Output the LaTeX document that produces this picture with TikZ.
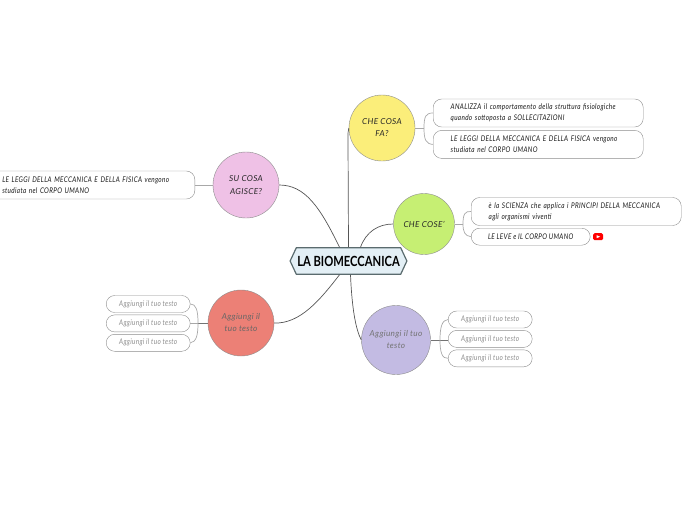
\documentclass[tikz,border=0pt]{standalone}
\usepackage{fontspec}
\setmainfont{Lato}
\usepackage{xcolor}
\usetikzlibrary{shapes.symbols,positioning}
\definecolor{rootfill}{HTML}{E3EFF5}
\definecolor{rootline}{HTML}{5A6B6E}
\definecolor{linegrey}{HTML}{A8A8A8}
\definecolor{branch}{HTML}{555555}
\definecolor{yellowtopic}{HTML}{FBEE7A}
\definecolor{greentopic}{HTML}{C6EF73}
\definecolor{pinktopic}{HTML}{EFC1E6}
\definecolor{redtopic}{HTML}{EC8076}
\definecolor{purpletopic}{HTML}{C3BBE3}
\newcommand{\topictxt}{\fontsize{8.2}{11}\selectfont\itshape\addfontfeature{LetterSpace=4}}
\newcommand{\leaftxt}{\fontsize{7.8}{11}\selectfont\itshape\addfontfeature{LetterSpace=4,FakeStretch=0.82}}
\begin{document}
\begin{tikzpicture}[
  x=1pt, y=-1pt,
  topic/.style={circle, draw=black!45, inner sep=0pt, align=center, font=\topictxt, text=black!85},
  leaf/.style={rectangle, rounded corners=8.5pt, draw=black!45, align=left, inner sep=0pt, font=\leaftxt, text=black!90},
  bigleaf/.style={leaf, minimum width=210pt, minimum height=28pt, text width=175pt},
  greyleaf/.style={leaf, align=center, minimum width=84pt, minimum height=17pt, text=black!45},
  rootnode/.style={shape=signal, signal to=west and east, signal pointer angle=130, fill=rootfill, draw=rootline, line width=1.2pt, inner xsep=1pt, inner ysep=8pt, font=\fontsize{14}{16}\selectfont\bfseries\addfontfeature{FakeStretch=0.8}},
  arr/.style={branch, line width=0.7pt},
  twig/.style={linegrey, line width=0.7pt},
  stem/.style={black!55, line width=1pt}
]
\useasboundingbox (0,0) rectangle (696,520);

\node[rootnode] (root) at (348.5,261) {LA BIOMECCANICA};

\node[topic, fill=yellowtopic, minimum size=66pt] (fa) at (382,128) {CHE COSA\\[1pt]FA?};
\node[topic, fill=greentopic, minimum size=61pt] (cose) at (424,224) {CHE COSE'};
\node[topic, fill=pinktopic, minimum size=66pt] (agisce) at (246,185) {SU COSA\\[2pt]AGISCE?};
\node[topic, fill=redtopic, minimum size=66pt, text=black!60] (red) at (241,323) {Aggiungi il\\[1pt]tuo testo};
\node[topic, fill=purpletopic, minimum size=69pt, text=black!55] (purple) at (396,340) {Aggiungi il tuo\\[1pt]testo};

\node[bigleaf, anchor=west] (fa1) at (433,113) {ANALIZZA il comportamento della struttura fisiologiche\\quando sottoposta a SOLLECITAZIONI};
\node[bigleaf, below=3pt of fa1] (fa2) {LE LEGGI DELLA MECCANICA E DELLA FISICA vengono\\studiata nel CORPO UMANO};
\node[bigleaf, anchor=west] (cose1) at (471,211.5) {è la SCIENZA che applica i PRINCIPI DELLA MECCANICA\\agli organismi viventi};
\node[leaf, anchor=north west, align=center, minimum width=119pt, minimum height=17pt] (cose2) at (471,228) {LE LEVE e IL CORPO UMANO};
\node[fill=red, rounded corners=1.5pt, minimum width=10pt, minimum height=7pt, inner sep=0pt, right=2.5pt of cose2] (yt) {};
\fill[white] ([xshift=-1.5pt,yshift=1.5pt]yt.center) -- ([xshift=-1.5pt,yshift=-1.5pt]yt.center) -- ([xshift=2pt]yt.center) -- cycle;
\node[bigleaf, anchor=east] (agisce1) at (195,185) {LE LEGGI DELLA MECCANICA E DELLA FISICA vengono\\studiata nel CORPO UMANO};

\node[greyleaf, anchor=west] (red1) at (106,304) {Aggiungi il tuo testo};
\node[greyleaf, below=2pt of red1] (red2) {Aggiungi il tuo testo};
\node[greyleaf, below=2pt of red2] (red3) {Aggiungi il tuo testo};
\node[greyleaf, anchor=west] (purple1) at (448,319.5) {Aggiungi il tuo testo};
\node[greyleaf, below=2pt of purple1] (purple2) {Aggiungi il tuo testo};
\node[greyleaf, below=2pt of purple2] (purple3) {Aggiungi il tuo testo};

\draw[arr] (root.north) -- (348,140) .. controls (348,132) .. (fa.west);
\draw[arr] ([xshift=12pt]root.north) .. controls (366,232) and (378,224) .. (cose.west);
\draw[arr] ([xshift=-9pt]root.north) .. controls (320,207) and (305,185) .. (agisce.east);
\draw[arr] ([xshift=-9pt]root.south) .. controls (320,300) and (300,324) .. (red.east);
\draw[arr] ([xshift=2pt]root.south) .. controls (352,310) and (356,330) .. (purple.west);

\draw[twig] (fa.east) -- (424,128);
\draw[twig] (424,128) .. controls (424,116) and (426,113) .. (fa1.west);
\draw[twig] (424,128) .. controls (424,140) and (426,144) .. (fa2.west);
\draw[twig] (cose.east) -- (463,224);
\draw[twig] (463,224) .. controls (463,214) and (465,211) .. (cose1.west);
\draw[twig] (463,224) .. controls (463,232) and (465,236) .. (cose2.west);
\draw[twig] (agisce.west) -- (agisce1.east);
\draw[twig] (198,323) -- (red2.east |- red.west);
\draw[stem] (red.west) -- (198,323);
\draw[twig] (198,323) .. controls (198,310) and (196,304) .. (red1.east);
\draw[twig] (198,323) .. controls (198,336) and (196,342) .. (red3.east);
\draw[stem] (purple.east) -- (purple2.west |- purple.east);
\draw[twig] (440,340) .. controls (440,327) and (442,320) .. (purple1.west);
\draw[twig] (440,340) .. controls (440,352) and (442,359) .. (purple3.west);
\end{tikzpicture}
\end{document}
